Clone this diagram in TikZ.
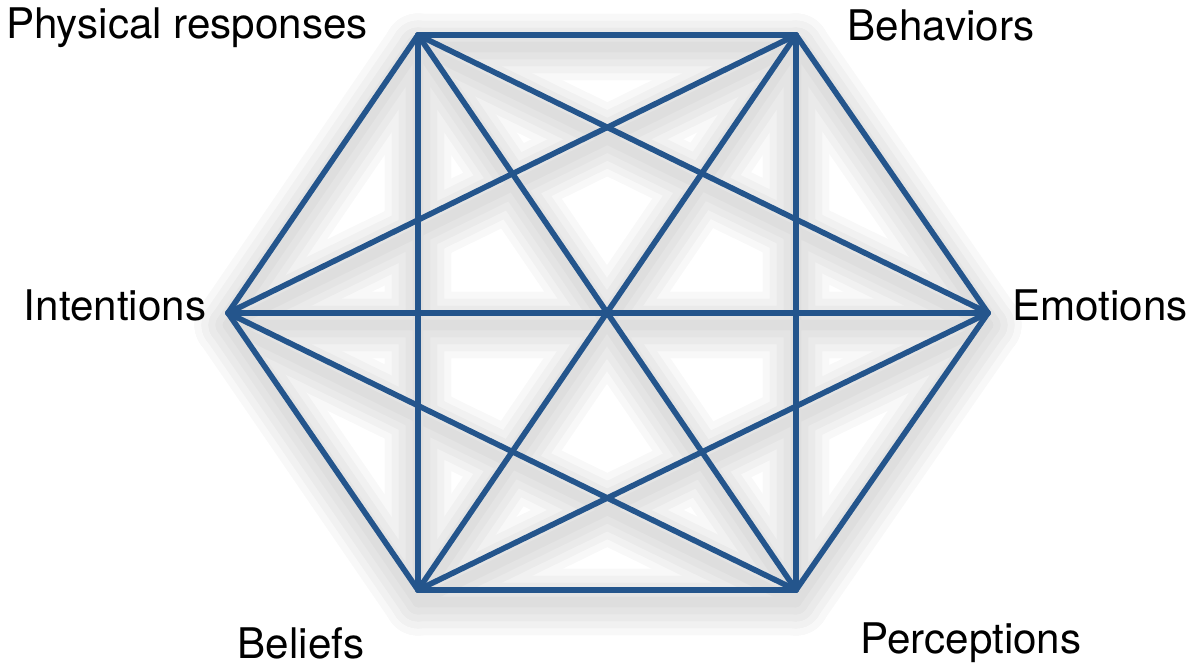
\documentclass[tikz,border=0pt]{standalone}
\usepackage{fontspec}
\setmainfont{TeX Gyre Heros}
\usetikzlibrary{positioning}
\definecolor{linkblue}{HTML}{24558C}
\tikzset{
  link/.style={draw=linkblue, line width=1.6pt, line cap=round, line join=round},
  linkshadow/.style={draw=black, line cap=round},
  aspect/.style={font=\fontsize{12}{14}\selectfont, inner sep=0pt, text=black}
}

\begin{document}
\begin{tikzpicture}
  \useasboundingbox (0,0) rectangle (11.98,6.67);
  % hexagon corners
  \coordinate (pr) at (4.18,6.32);
  \coordinate (be) at (7.96,6.32);
  \coordinate (in) at (2.28,3.54);
  \coordinate (em) at (9.88,3.54);
  \coordinate (bl) at (4.18,0.77);
  \coordinate (pe) at (7.96,0.77);
  % soft shadow, one layer per width
  \foreach \w in {3,7,11,15,19}{
    \begin{scope}[transparency group, opacity=0.026]
      \foreach \a/\b in {pr/be,pr/in,pr/em,pr/bl,pr/pe,be/in,be/em,be/bl,be/pe,in/em,in/bl,in/pe,em/bl,em/pe,bl/pe}
        \draw[linkshadow, line width=\w pt] ([yshift=-0.12cm]\a) -- ([yshift=-0.12cm]\b);
    \end{scope}
  }
  % every pair joined
  \foreach \a/\b in {pr/be,pr/in,pr/em,pr/bl,pr/pe,be/in,be/em,be/bl,be/pe,in/em,in/bl,in/pe,em/bl,em/pe,bl/pe}
    \draw[link] (\a) -- (\b);
  % labels
  \node[aspect] (prl) at (1.87,6.39) {Physical responses};
  \node[aspect] (bel) at (9.41,6.42) {Behaviors};
  \node[aspect] (inl) at (1.15,3.62) {Intentions};
  \node[aspect] (eml) at (11.00,3.62) {Emotions};
  \node[aspect] (bll) at (3.01,0.24) {Beliefs};
  \node[aspect] (pel) at (9.71,0.24) {Perceptions};
\end{tikzpicture}
\end{document}
